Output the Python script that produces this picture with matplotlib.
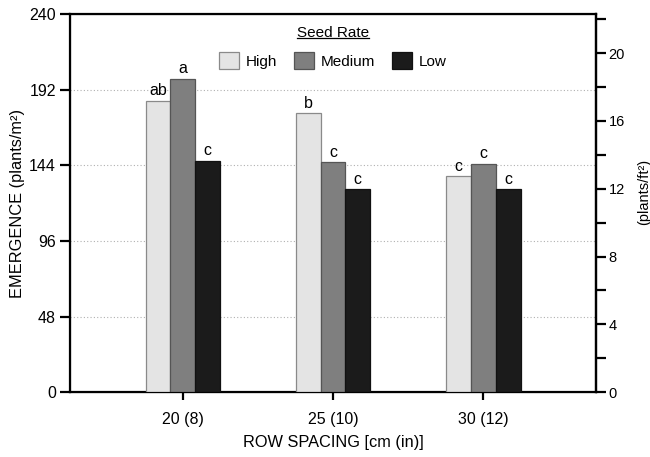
import numpy as np
import matplotlib
matplotlib.use("Agg")
import matplotlib.pyplot as plt
from matplotlib.lines import Line2D

plt.rcParams['font.family'] = ['Liberation Sans', 'DejaVu Sans']

spacing = ["20 (8)", "25 (10)", "30 (12)"]
rates = ["High", "Medium", "Low"]
high = [185, 177, 137]
medium = [199, 146, 145]
low = [147, 129, 129]
letters_high = ["ab", "b", "c"]
letters_medium = ["a", "c", "c"]
letters_low = ["c", "c", "c"]
colors = ["#e4e4e4", "#7f7f7f", "#1b1b1b"]
edges = ["#8a8a8a", "#555555", "#111111"]

fig = plt.figure(figsize=(6.5, 4.57), dpi=100)
ax = fig.add_axes([0.1077, 0.142, 0.8093, 0.827])

x = np.arange(len(spacing))
w = 0.165
series = [high, medium, low]
labels = [letters_high, letters_medium, letters_low]
for i, (vals, lab) in enumerate(zip(series, labels)):
    bars = ax.bar(x + (i - 1) * w, vals, w, color=colors[i], edgecolor=edges[i],
                  linewidth=0.9, label=rates[i], zorder=3)
    for b, t in zip(bars, lab):
        ax.text(b.get_x() + b.get_width() / 2, b.get_height() + 1.5, t,
                ha="center", va="bottom", fontsize=11.5, zorder=4)

ax.set_xlim(-0.75, 2.75)
ax.set_ylim(0, 240)
ax.set_yticks(np.arange(0, 241, 48))
ax.set_xticks(x)
ax.set_xticklabels(spacing)
for g in [48, 96, 144, 192]:
    ax.axhline(g, color="#b0b0b0", linestyle=(0, (1, 2)), linewidth=0.8, zorder=1)

for s in ax.spines.values():
    s.set_linewidth(1.6)
ax.tick_params(axis="y", direction="out", length=7, width=1.6, labelsize=11.5, pad=3)
ax.tick_params(axis="x", direction="out", length=6, width=1.6, labelsize=11.5, pad=8)
ax.set_ylabel("EMERGENCE (plants/m²)", fontsize=11.8, labelpad=3)
ax.set_xlabel("ROW SPACING [cm (in)]", fontsize=11.8, labelpad=6)

ax2 = ax.twinx()
ax2.set_ylim(0, 240 / 10.764)
ax2.set_yticks(np.arange(0, 21, 4))
ax2.set_yticks(np.arange(2, 23, 4), minor=True)
ax2.tick_params(axis="y", which="both", direction="out", length=7, width=1.6, labelsize=10.5, pad=2)
ax2.spines["right"].set_linewidth(1.6)
ax2.set_ylabel("(plants/ft²)", fontsize=10.5, labelpad=9, y=0.53)

leg = ax.legend(loc="upper center", bbox_to_anchor=(0.5, 1.005), ncol=3, frameon=False,
                title="Seed Rate", title_fontsize=11, fontsize=11,
                handlelength=1.3, handleheight=1.3, handletextpad=0.45,
                columnspacing=1.1, labelspacing=0.8)

fig.canvas.draw()
r = fig.canvas.get_renderer()
bb = leg.get_title().get_window_extent(r)
inv = fig.transFigure.inverted()
(x0, y0), (x1, y1) = inv.transform([[bb.x0, bb.y0], [bb.x1, bb.y0]])
fig.add_artist(Line2D([x0, x1], [y0 + 0.004, y0 + 0.004], color="black", linewidth=0.9,
                      transform=fig.transFigure))

fig.savefig("out.png", dpi=100)
